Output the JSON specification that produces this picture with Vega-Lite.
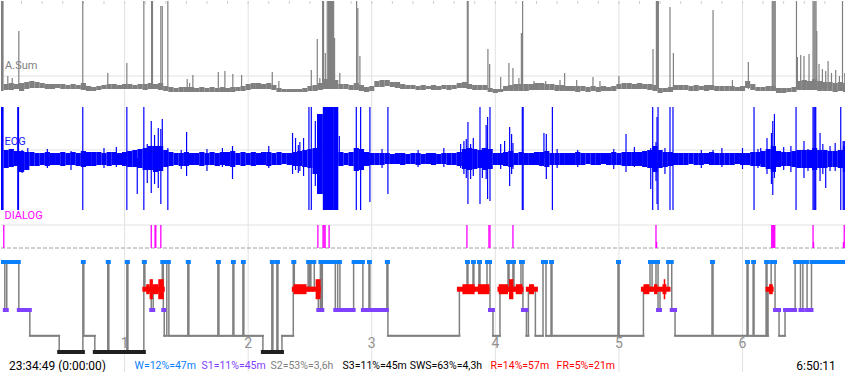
{
"$schema": "https://vega.github.io/schema/vega-lite/v6.json",
"padding": 0,
"bounds": "flush",
"spacing": 0,
"background": "white",
"resolve": {"scale": {"color": "independent"}},
"config": {"view": {"stroke": null}, "font": "Roboto"},
"datasets": {
"hrs": [{"e":120,"lab":"1"},{"e":240,"lab":"2"},{"e":360,"lab":"3"},{"e":480,"lab":"4"},{"e":600,"lab":"5"},{"e":720,"lab":"6"}],
"full": [{"e":0,"b":820.5}],
"ten": [{"e":20},{"e":40},{"e":60},{"e":80},{"e":100},{"e":120},{"e":140},{"e":160},{"e":180},{"e":200},{"e":220},{"e":240},{"e":260},{"e":280},{"e":300},{"e":320},{"e":340},{"e":360},{"e":380},{"e":400},{"e":420},{"e":440},{"e":460},{"e":480},{"e":500},{"e":520},{"e":540},{"e":560},{"e":580},{"e":600},{"e":620},{"e":640},{"e":660},{"e":680},{"e":700},{"e":720},{"e":740},{"e":760},{"e":780},{"e":800},{"e":820}],
"sig": [
{"e":0,"al":8,"ah":98,"ol":-52,"oh":51},{"e":5,"al":9,"ah":15,"ol":-10,"oh":8},{"e":10,"al":9,"ah":16,"ol":-9,"oh":9},{"e":15,"al":10,"ah":15,"ol":-8,"oh":7},{"e":20,"al":8,"ah":16,"ol":-14,"oh":7},{"e":25,"al":10,"ah":17,"ol":-12,"oh":6},{"e":30,"al":11,"ah":18,"ol":-8,"oh":6},{"e":35,"al":11,"ah":17,"ol":-8,"oh":5},{"e":40,"al":11,"ah":16,"ol":-7,"oh":5},{"e":45,"al":10,"ah":15,"ol":-8,"oh":6},
{"e":50,"al":10,"ah":15,"ol":-7,"oh":5},{"e":55,"al":11,"ah":15,"ol":-7,"oh":5},{"e":60,"al":10,"ah":15,"ol":-8,"oh":6},{"e":65,"al":10,"ah":14,"ol":-7,"oh":5},{"e":70,"al":10,"ah":15,"ol":-7,"oh":6},{"e":75,"al":10,"ah":14,"ol":-8,"oh":5},{"e":80,"al":9,"ah":16,"ol":-9,"oh":7},{"e":85,"al":8,"ah":13,"ol":-8,"oh":6},{"e":90,"al":8,"ah":12,"ol":-8,"oh":6},{"e":95,"al":9,"ah":13,"ol":-7,"oh":6},
{"e":100,"al":10,"ah":14,"ol":-7,"oh":5},{"e":105,"al":10,"ah":15,"ol":-8,"oh":6},{"e":110,"al":10,"ah":15,"ol":-7,"oh":6},{"e":115,"al":10,"ah":14,"ol":-7,"oh":5},{"e":120,"al":10,"ah":15,"ol":-8,"oh":6},{"e":125,"al":10,"ah":15,"ol":-9,"oh":7},{"e":130,"al":10,"ah":14,"ol":-9,"oh":8},{"e":135,"al":10,"ah":15,"ol":-10,"oh":9},{"e":140,"al":9,"ah":15,"ol":-12,"oh":10},{"e":145,"al":10,"ah":16,"ol":-12,"oh":12},
{"e":150,"al":10,"ah":15,"ol":-14,"oh":12},{"e":155,"al":9,"ah":16,"ol":-13,"oh":12},{"e":160,"al":8,"ah":13,"ol":-9,"oh":8},{"e":165,"al":7,"ah":12,"ol":-8,"oh":6},{"e":170,"al":7,"ah":11,"ol":-7,"oh":5},{"e":175,"al":7,"ah":12,"ol":-8,"oh":5},{"e":180,"al":7,"ah":12,"ol":-8,"oh":6},{"e":185,"al":7,"ah":12,"ol":-7,"oh":5},{"e":190,"al":7,"ah":11,"ol":-7,"oh":5},{"e":195,"al":7,"ah":12,"ol":-8,"oh":6},
{"e":200,"al":7,"ah":11,"ol":-7,"oh":5},{"e":205,"al":7,"ah":12,"ol":-7,"oh":6},{"e":210,"al":7,"ah":11,"ol":-8,"oh":5},{"e":215,"al":7,"ah":12,"ol":-7,"oh":6},{"e":220,"al":7,"ah":11,"ol":-8,"oh":6},{"e":225,"al":7,"ah":12,"ol":-9,"oh":7},{"e":230,"al":8,"ah":12,"ol":-7,"oh":5},{"e":235,"al":8,"ah":13,"ol":-8,"oh":6},{"e":240,"al":9,"ah":15,"ol":-7,"oh":5},{"e":245,"al":10,"ah":16,"ol":-8,"oh":6},
{"e":250,"al":10,"ah":16,"ol":-7,"oh":5},{"e":255,"al":10,"ah":15,"ol":-7,"oh":6},{"e":260,"al":10,"ah":16,"ol":-8,"oh":6},{"e":265,"al":9,"ah":14,"ol":-7,"oh":5},{"e":270,"al":7,"ah":11,"ol":-7,"oh":6},{"e":275,"al":7,"ah":10,"ol":-6,"oh":5},{"e":280,"al":7,"ah":10,"ol":-7,"oh":5},{"e":285,"al":7,"ah":10,"ol":-8,"oh":6},{"e":290,"al":7,"ah":10,"ol":-8,"oh":7},{"e":295,"al":7,"ah":11,"ol":-9,"oh":8},
{"e":300,"al":8,"ah":13,"ol":-10,"oh":9},{"e":305,"al":8,"ah":14,"ol":-16,"oh":10},{"e":310,"al":9,"ah":16,"ol":-36,"oh":44},{"e":315,"al":10,"ah":20,"ol":-52,"oh":51},{"e":320,"al":10,"ah":21,"ol":-52,"oh":51},{"e":325,"al":10,"ah":19,"ol":-52,"oh":51},{"e":330,"al":10,"ah":15,"ol":-8,"oh":6},{"e":335,"al":10,"ah":15,"ol":-7,"oh":5},{"e":340,"al":9,"ah":14,"ol":-8,"oh":6},{"e":345,"al":9,"ah":16,"ol":-13,"oh":10},
{"e":350,"al":8,"ah":14,"ol":-12,"oh":9},{"e":355,"al":7,"ah":12,"ol":-8,"oh":6},{"e":360,"al":8,"ah":13,"ol":-7,"oh":5},{"e":365,"al":12,"ah":18,"ol":-7,"oh":5},{"e":370,"al":12,"ah":19,"ol":-7,"oh":5},{"e":375,"al":13,"ah":19,"ol":-6,"oh":5},{"e":380,"al":12,"ah":17,"ol":-6,"oh":4},{"e":385,"al":11,"ah":17,"ol":-6,"oh":5},{"e":390,"al":10,"ah":15,"ol":-7,"oh":5},{"e":395,"al":10,"ah":14,"ol":-6,"oh":4},
{"e":400,"al":10,"ah":14,"ol":-6,"oh":5},{"e":405,"al":9,"ah":13,"ol":-7,"oh":5},{"e":410,"al":9,"ah":14,"ol":-6,"oh":4},{"e":415,"al":10,"ah":13,"ol":-6,"oh":5},{"e":420,"al":9,"ah":14,"ol":-7,"oh":5},{"e":425,"al":9,"ah":13,"ol":-6,"oh":4},{"e":430,"al":10,"ah":14,"ol":-6,"oh":5},{"e":435,"al":9,"ah":14,"ol":-7,"oh":5},{"e":440,"al":10,"ah":14,"ol":-7,"oh":5},{"e":445,"al":11,"ah":16,"ol":-8,"oh":6},
{"e":450,"al":11,"ah":17,"ol":-11,"oh":9},{"e":455,"al":10,"ah":15,"ol":-12,"oh":10},{"e":460,"al":9,"ah":14,"ol":-11,"oh":9},{"e":465,"al":9,"ah":14,"ol":-10,"oh":8},{"e":470,"al":9,"ah":14,"ol":-12,"oh":10},{"e":475,"al":7,"ah":11,"ol":-11,"oh":9},{"e":480,"al":6,"ah":10,"ol":-7,"oh":5},{"e":485,"al":7,"ah":10,"ol":-7,"oh":5},{"e":490,"al":8,"ah":13,"ol":-8,"oh":6},{"e":495,"al":8,"ah":14,"ol":-9,"oh":7},
{"e":500,"al":8,"ah":15,"ol":-7,"oh":5},{"e":505,"al":8,"ah":15,"ol":-7,"oh":6},{"e":510,"al":8,"ah":15,"ol":-7,"oh":5},{"e":515,"al":9,"ah":15,"ol":-7,"oh":5},{"e":520,"al":9,"ah":16,"ol":-7,"oh":6},{"e":525,"al":9,"ah":16,"ol":-8,"oh":6},{"e":530,"al":9,"ah":15,"ol":-9,"oh":7},{"e":535,"al":9,"ah":15,"ol":-7,"oh":5},{"e":540,"al":8,"ah":14,"ol":-7,"oh":5},{"e":545,"al":8,"ah":14,"ol":-7,"oh":5},
{"e":550,"al":8,"ah":13,"ol":-7,"oh":5},{"e":555,"al":8,"ah":13,"ol":-7,"oh":5},{"e":560,"al":7,"ah":13,"ol":-7,"oh":6},{"e":565,"al":8,"ah":13,"ol":-7,"oh":5},{"e":570,"al":7,"ah":12,"ol":-6,"oh":5},{"e":575,"al":8,"ah":13,"ol":-7,"oh":5},{"e":580,"al":7,"ah":12,"ol":-7,"oh":5},{"e":585,"al":8,"ah":13,"ol":-6,"oh":5},{"e":590,"al":8,"ah":12,"ol":-7,"oh":5},{"e":595,"al":8,"ah":13,"ol":-7,"oh":6},
{"e":600,"al":10,"ah":15,"ol":-7,"oh":5},{"e":605,"al":10,"ah":16,"ol":-8,"oh":6},{"e":610,"al":10,"ah":16,"ol":-8,"oh":6},{"e":615,"al":10,"ah":15,"ol":-8,"oh":6},{"e":620,"al":10,"ah":16,"ol":-8,"oh":6},{"e":625,"al":10,"ah":15,"ol":-9,"oh":7},{"e":630,"al":9,"ah":15,"ol":-10,"oh":8},{"e":635,"al":8,"ah":14,"ol":-14,"oh":12},{"e":640,"al":6,"ah":11,"ol":-10,"oh":8},{"e":645,"al":7,"ah":11,"ol":-9,"oh":6},
{"e":650,"al":7,"ah":12,"ol":-8,"oh":6},{"e":655,"al":9,"ah":14,"ol":-7,"oh":5},{"e":660,"al":9,"ah":14,"ol":-7,"oh":5},{"e":665,"al":9,"ah":14,"ol":-7,"oh":5},{"e":670,"al":8,"ah":13,"ol":-6,"oh":5},{"e":675,"al":8,"ah":14,"ol":-7,"oh":5},{"e":680,"al":9,"ah":13,"ol":-7,"oh":5},{"e":685,"al":8,"ah":14,"ol":-6,"oh":5},{"e":690,"al":9,"ah":14,"ol":-7,"oh":6},{"e":695,"al":8,"ah":13,"ol":-7,"oh":5},
{"e":700,"al":8,"ah":13,"ol":-7,"oh":5},{"e":705,"al":8,"ah":13,"ol":-7,"oh":5},{"e":710,"al":8,"ah":13,"ol":-7,"oh":5},{"e":715,"al":8,"ah":12,"ol":-6,"oh":5},{"e":720,"al":8,"ah":13,"ol":-7,"oh":5},{"e":725,"al":11,"ah":18,"ol":-7,"oh":5},{"e":730,"al":9,"ah":15,"ol":-8,"oh":6},{"e":735,"al":8,"ah":12,"ol":-8,"oh":6},{"e":740,"al":8,"ah":12,"ol":-9,"oh":7},{"e":745,"al":8,"ah":13,"ol":-11,"oh":9},
{"e":750,"al":8,"ah":13,"ol":-14,"oh":12},{"e":755,"al":6,"ah":11,"ol":-9,"oh":7},{"e":760,"al":6,"ah":11,"ol":-8,"oh":6},{"e":765,"al":7,"ah":11,"ol":-8,"oh":6},{"e":770,"al":7,"ah":12,"ol":-9,"oh":7},{"e":775,"al":9,"ah":18,"ol":-10,"oh":8},{"e":780,"al":9,"ah":19,"ol":-10,"oh":8},{"e":785,"al":9,"ah":18,"ol":-10,"oh":8},{"e":790,"al":9,"ah":20,"ol":-12,"oh":10},{"e":795,"al":8,"ah":18,"ol":-10,"oh":8},
{"e":800,"al":8,"ah":17,"ol":-10,"oh":8},{"e":805,"al":8,"ah":17,"ol":-9,"oh":7},{"e":810,"al":7,"ah":16,"ol":-9,"oh":7},{"e":815,"al":8,"ah":17,"ol":-10,"oh":8},{"e":820,"al":7,"ah":16,"ol":-14,"oh":12}
],
"aspk": [
{"e":6.6,"h":23},{"e":10.9,"h":21},{"e":17.3,"h":68},{"e":79.4,"h":98},{"e":103.7,"h":26},{"e":122.2,"h":36},{"e":138.7,"h":98},{"e":146.2,"h":98},{"e":147.1,"h":98},{"e":155.2,"h":93},{"e":156.6,"h":93},{"e":162,"h":98},{"e":180.8,"h":20},{"e":183.1,"h":16},{"e":186.3,"h":24},{"e":211,"h":27},{"e":217.4,"h":28},{"e":225.1,"h":25},{"e":233.6,"h":24},{"e":263.4,"h":27},{"e":269.8,"h":18},
{"e":301.3,"h":29},{"e":307.1,"h":60},{"e":309.6,"h":21},{"e":312.3,"h":98},{"e":313.2,"h":98},{"e":314.9,"h":46},{"e":316.8,"h":98},{"e":318.1,"h":98},{"e":319,"h":98},{"e":320,"h":98},{"e":321,"h":98},{"e":322,"h":98},{"e":323,"h":98},{"e":323.9,"h":61},{"e":329,"h":26},{"e":345.3,"h":98},{"e":346.5,"h":91},{"e":348.5,"h":43},
{"e":452.8,"h":98},{"e":453.6,"h":98},{"e":472.8,"h":50},{"e":474.5,"h":35},{"e":485.2,"h":22},{"e":493.2,"h":36},{"e":497.1,"h":31},{"e":502.9,"h":21},{"e":505.3,"h":66},{"e":506.5,"h":98},{"e":517.5,"h":18},{"e":528.9,"h":18},{"e":542.8,"h":19},{"e":547.3,"h":26},{"e":559,"h":19},{"e":574.8,"h":22},{"e":581.6,"h":18},{"e":600,"h":23},
{"e":633.1,"h":50},{"e":636.4,"h":98},{"e":637.4,"h":98},{"e":638.3,"h":98},{"e":649.6,"h":92},{"e":652.9,"h":46},{"e":691.4,"h":89},{"e":710.2,"h":19},{"e":725.7,"h":37},{"e":748.9,"h":98},{"e":749.8,"h":98},{"e":750.8,"h":98},{"e":751.8,"h":98},{"e":772.4,"h":98},{"e":773.3,"h":42},{"e":776.5,"h":44},{"e":779.7,"h":43},{"e":784.6,"h":45},
{"e":788.5,"h":98},{"e":789.5,"h":98},{"e":790.4,"h":98},{"e":791.4,"h":98},{"e":792.1,"h":68},{"e":794.3,"h":35},{"e":797.6,"h":30},{"e":800.8,"h":28},{"e":803.1,"h":38},{"e":806.4,"h":26},{"e":810.5,"h":29},{"e":814.1,"h":23},{"e":817.1,"h":98},{"e":819.3,"h":26}
],
"espk": [
{"e":16.3,"l":-52,"h":51},{"e":17,"l":-52,"h":51},{"e":20.5,"l":-15,"h":8},{"e":26,"l":-12,"h":10},{"e":45,"l":-10,"h":9},{"e":68,"l":-12,"h":7},{"e":79.4,"l":-52,"h":51},{"e":100,"l":-10,"h":10},{"e":112,"l":-9,"h":11},{"e":122.2,"l":-52,"h":51},{"e":132.3,"l":-36,"h":0},{"e":138.7,"l":-52,"h":51},{"e":142,"l":-25,"h":14},{"e":145.9,"l":-35,"h":37},{"e":149.1,"l":-26,"h":23},{"e":152.7,"l":-30,"h":30},{"e":155.2,"l":-46,"h":29},{"e":156.6,"l":-10,"h":39},{"e":162,"l":-52,"h":10},
{"e":175,"l":-11,"h":8},{"e":180.2,"l":-18,"h":26},{"e":200,"l":-13,"h":9},{"e":215,"l":-9,"h":10},{"e":224.8,"l":-21,"h":12},{"e":260,"l":-10,"h":12},{"e":283.1,"l":-16,"h":25},{"e":286,"l":-12,"h":20},{"e":288.7,"l":-15,"h":13},{"e":290.2,"l":-13,"h":16},{"e":293.8,"l":-18,"h":20},{"e":299,"l":-52,"h":51},{"e":301.3,"l":-52,"h":51},{"e":305.2,"l":-28,"h":37},{"e":307.4,"l":-36,"h":44},
{"e":328.5,"l":-5,"h":22},{"e":345,"l":-52,"h":51},{"e":349.2,"l":-52,"h":51},{"e":358.2,"l":-44,"h":51},{"e":370,"l":-10,"h":9},{"e":375.7,"l":-36,"h":51},{"e":405,"l":-9,"h":8},{"e":430,"l":-9,"h":10},
{"e":446.3,"l":-10,"h":14},{"e":449.5,"l":-16,"h":17},{"e":451.8,"l":-20,"h":19},{"e":453.4,"l":-46,"h":36},{"e":456,"l":-21,"h":14},{"e":458.6,"l":-18,"h":20},{"e":465.1,"l":-46,"h":51},{"e":467.4,"l":-20,"h":10},{"e":471.1,"l":-21,"h":33},{"e":472.5,"l":-41,"h":41},{"e":474.8,"l":-43,"h":51},{"e":485.2,"l":-11,"h":14},{"e":489,"l":-6,"h":17},{"e":493.9,"l":-28,"h":31},{"e":495.8,"l":-16,"h":24},{"e":497.1,"l":-11,"h":15},{"e":506.2,"l":-52,"h":51},{"e":507,"l":-52,"h":51},
{"e":527.2,"l":0,"h":25},{"e":529.5,"l":-21,"h":24},{"e":535.4,"l":-52,"h":51},{"e":540,"l":-10,"h":9},{"e":560,"l":-9,"h":8},{"e":595,"l":-11,"h":9},{"e":606.9,"l":-14,"h":24},{"e":615,"l":-9,"h":11},
{"e":630.9,"l":-31,"h":10},{"e":632.8,"l":-52,"h":51},{"e":636,"l":-23,"h":16},{"e":637,"l":-46,"h":41},{"e":638,"l":-52,"h":51},{"e":644.7,"l":-16,"h":10},{"e":649.6,"l":-52,"h":51},{"e":652.5,"l":-52,"h":51},{"e":680,"l":-10,"h":8},{"e":691.4,"l":-6,"h":8},{"e":700,"l":-9,"h":10},{"e":720,"l":-11,"h":10},{"e":731.2,"l":-52,"h":51},{"e":735,"l":-10,"h":9},{"e":737.7,"l":-6,"h":10},
{"e":743.8,"l":-16,"h":20},{"e":748.1,"l":-26,"h":25},{"e":749.4,"l":-37,"h":37},{"e":751,"l":-20,"h":44},{"e":760,"l":-12,"h":11},{"e":767,"l":-14,"h":12},{"e":772,"l":-52,"h":51},{"e":779.7,"l":-20,"h":17},{"e":783.6,"l":-13,"h":9},{"e":788.5,"l":-52,"h":51},{"e":789.5,"l":-52,"h":51},{"e":790.4,"l":-52,"h":51},{"e":791.1,"l":-52,"h":51},{"e":795.3,"l":-23,"h":25},{"e":798,"l":-16,"h":14},{"e":800.8,"l":-30,"h":4},{"e":805,"l":-13,"h":12},{"e":810,"l":-13,"h":15},{"e":815.4,"l":-52,"h":51},{"e":817.8,"l":-52,"h":17},{"e":818.8,"l":-52,"h":17},{"e":819.8,"l":-52,"h":17}
],
"dlg": [
{"e":2.7,"l":5,"h":28},{"e":145.9,"l":5,"h":28},{"e":149.6,"l":5,"h":28},{"e":150.3,"l":5,"h":28},{"e":155.2,"l":5,"h":28},{"e":307.7,"l":5,"h":28},{"e":312.7,"l":5,"h":28},{"e":313.7,"l":5,"h":28},{"e":314.7,"l":5,"h":28},{"e":318.6,"l":5,"h":28},{"e":452.4,"l":5,"h":28},{"e":473.8,"l":5,"h":28},{"e":474.8,"l":5,"h":28},{"e":497.1,"l":5,"h":28},{"e":636,"l":5,"h":28},{"e":636.6,"l":5,"h":11},{"e":748.4,"l":5,"h":28},{"e":749.4,"l":5,"h":28},{"e":750.3,"l":5,"h":28},{"e":751.3,"l":5,"h":28},{"e":788.5,"l":5,"h":28},{"e":789,"l":5,"h":11},{"e":818.8,"l":5,"h":28},{"e":818,"l":5,"h":11}
],
"hyp": [
{"e":0,"b":3.7,"s":"W","c":0},{"e":3.7,"b":5.6,"s":"S1","c":2},{"e":5.6,"b":17.3,"s":"W","c":0},{"e":17.3,"b":28,"s":"S1","c":2},{"e":28,"b":56.5,"s":"S2","c":3},{"e":56.5,"b":79.5,"s":"S3","c":4},{"e":79.5,"b":80.4,"s":"W","c":0},{"e":80.4,"b":91.1,"s":"S2","c":3},{"e":91.1,"b":103.7,"s":"S3","c":4},{"e":103.7,"b":104.7,"s":"W","c":0},
{"e":104.7,"b":122.2,"s":"S3","c":4},{"e":122.2,"b":123.2,"s":"W","c":0},{"e":123.2,"b":138.7,"s":"S3","c":4},{"e":138.7,"b":139.7,"s":"W","c":0},{"e":139.7,"b":145.9,"s":"R","c":1},{"e":145.9,"b":147.8,"s":"S1","c":2},{"e":147.8,"b":156.6,"s":"R","c":1},{"e":156.6,"b":157.6,"s":"W","c":0},{"e":157.6,"b":158.5,"s":"S1","c":2},{"e":158.5,"b":161,"s":"S2","c":3},
{"e":161,"b":163,"s":"W","c":0},{"e":163,"b":181.4,"s":"S2","c":3},{"e":181.4,"b":182.4,"s":"W","c":0},{"e":182.4,"b":210.6,"s":"S2","c":3},{"e":210.6,"b":211.6,"s":"W","c":0},{"e":211.6,"b":225.2,"s":"S2","c":3},{"e":225.2,"b":226.1,"s":"W","c":0},{"e":226.1,"b":234.9,"s":"S2","c":3},{"e":234.9,"b":235.8,"s":"W","c":0},{"e":235.8,"b":254.3,"s":"S2","c":3},
{"e":254.3,"b":263,"s":"S3","c":4},{"e":263,"b":264,"s":"W","c":0},{"e":264,"b":267.9,"s":"S3","c":4},{"e":267.9,"b":268.9,"s":"W","c":0},{"e":268.9,"b":272.8,"s":"S3","c":4},{"e":272.8,"b":283.8,"s":"S2","c":3},{"e":283.8,"b":284.8,"s":"W","c":0},{"e":284.8,"b":298.2,"s":"R","c":1},{"e":298.2,"b":299.7,"s":"W","c":0},{"e":299.7,"b":300.9,"s":"R","c":1},
{"e":300.9,"b":304.2,"s":"W","c":0},{"e":304.2,"b":308.1,"s":"R","c":1},{"e":308.1,"b":310.1,"s":"S1","c":2},{"e":310.1,"b":311,"s":"W","c":0},{"e":311,"b":312,"s":"S1","c":2},{"e":312,"b":324.6,"s":"W","c":0},{"e":324.6,"b":326.9,"s":"S1","c":2},{"e":326.9,"b":329.1,"s":"W","c":0},{"e":329.1,"b":342.4,"s":"S1","c":2},{"e":342.4,"b":351.4,"s":"W","c":0},
{"e":351.4,"b":357.3,"s":"S1","c":2},{"e":357.3,"b":358.2,"s":"W","c":0},{"e":358.2,"b":374.7,"s":"S1","c":2},{"e":374.7,"b":375.7,"s":"W","c":0},{"e":375.7,"b":445.1,"s":"S2","c":3},{"e":445.1,"b":452.5,"s":"R","c":1},{"e":452.5,"b":453.4,"s":"W","c":0},{"e":453.4,"b":458.3,"s":"R","c":1},{"e":458.3,"b":459.2,"s":"W","c":0},{"e":459.2,"b":464.1,"s":"R","c":1},
{"e":464.1,"b":465.1,"s":"W","c":0},{"e":465.1,"b":471.9,"s":"R","c":1},{"e":471.9,"b":474.8,"s":"W","c":0},{"e":474.8,"b":477.7,"s":"S1","c":2},{"e":477.7,"b":484.5,"s":"S2","c":3},{"e":484.5,"b":492.3,"s":"R","c":1},{"e":492.3,"b":493.3,"s":"W","c":0},{"e":493.3,"b":497.1,"s":"R","c":1},{"e":497.1,"b":498.1,"s":"W","c":0},{"e":498.1,"b":504.9,"s":"R","c":1},
{"e":504.9,"b":506.8,"s":"W","c":0},{"e":506.8,"b":510.2,"s":"S1","c":2},{"e":510.2,"b":512.1,"s":"S2","c":3},{"e":512.1,"b":518.9,"s":"R","c":1},{"e":518.9,"b":526.3,"s":"S2","c":3},{"e":526.3,"b":529.2,"s":"W","c":0},{"e":529.2,"b":534.1,"s":"S2","c":3},{"e":534.1,"b":535,"s":"W","c":0},{"e":535,"b":599.1,"s":"S2","c":3},{"e":599.1,"b":600.1,"s":"W","c":0},
{"e":600.1,"b":623.8,"s":"S2","c":3},{"e":623.8,"b":630.2,"s":"R","c":1},{"e":630.2,"b":632.2,"s":"W","c":0},{"e":632.2,"b":636,"s":"R","c":1},{"e":636,"b":638,"s":"W","c":0},{"e":638,"b":639.9,"s":"S1","c":2},{"e":639.9,"b":647.7,"s":"R","c":1},{"e":647.7,"b":651.3,"s":"W","c":0},{"e":651.3,"b":654.5,"s":"S1","c":2},{"e":654.5,"b":690.4,"s":"S2","c":3},
{"e":690.4,"b":691.4,"s":"W","c":0},{"e":691.4,"b":724.4,"s":"S2","c":3},{"e":724.4,"b":725.4,"s":"W","c":0},{"e":725.4,"b":730.3,"s":"S2","c":3},{"e":730.3,"b":731.2,"s":"W","c":0},{"e":731.2,"b":742.9,"s":"S2","c":3},{"e":742.9,"b":743.8,"s":"W","c":0},{"e":743.8,"b":744.8,"s":"S2","c":3},{"e":744.8,"b":747.8,"s":"R","c":1},{"e":747.8,"b":751.6,"s":"W","c":0},
{"e":751.6,"b":755.5,"s":"S1","c":2},{"e":755.5,"b":761.3,"s":"S2","c":3},{"e":761.3,"b":771.1,"s":"S1","c":2},{"e":771.1,"b":776.3,"s":"W","c":0},{"e":776.3,"b":778.6,"s":"S1","c":2},{"e":778.6,"b":782.7,"s":"W","c":0},{"e":782.7,"b":787,"s":"S1","c":2},{"e":787,"b":820.5,"s":"W","c":0}
],
"rem2": [
{"e":141,"b":144.3},{"e":147.5,"b":152.7},{"e":284.1,"b":296.7},{"e":448,"b":459.9},{"e":463.1,"b":474.2},{"e":483.3,"b":492.3},{"e":499.8,"b":506.3},{"e":512.7,"b":517.6},{"e":623.8,"b":629.6},{"e":634.1,"b":637.4},{"e":642.3,"b":646.1},{"e":745.8,"b":749.4}
],
"rem3": [
{"e":144.3,"b":147.5},{"e":152.7,"b":158.1},{"e":305.5,"b":310.3},{"e":493.3,"b":497.5},{"e":643.5,"b":645}
],
"labs": [{"e":4,"t":"A.Sum"}],
"labe": [{"e":3.4,"t":"EOG"}],
"labd": [{"e":3.4,"t":"DIALOG"}],
"txt": [
{"e":129.7,"t":"W=12%=47m","g":"W"},{"e":194.7,"t":"S1=11%=45m","g":"S1"},{"e":261.7,"t":"S2=53%=3,6h","g":"S2"},{"e":331.7,"t":"S3=11%=45m","g":"K"},{"e":396.8,"t":"SWS=63%=4,3h","g":"K"},{"e":475.4,"t":"R=14%=57m","g":"R"},{"e":539.5,"t":"FR=5%=21m","g":"R"}
],
"tl": [{"e":7.7,"t":"23:34:49 (0:00:00)"}],
"tr": [{"e":810.6,"t":"6:50:11"}]
},
"vconcat": [
{
"width": 845, "height": 98,
"encoding": {"x": {"field": "e", "type": "quantitative", "scale": {"domain": [0, 820.5], "nice": false, "zero": false}, "axis": null}},
"layer": [
{"data": {"name": "hrs"}, "mark": {"type": "rule", "color": "#e2e2e2"}, "encoding": {}},
{"data": {"name": "full"}, "mark": {"type": "rule", "color": "#e2e2e2"}, "encoding": {"x2": {"field": "b"}, "y": {"datum": 23, "type": "quantitative", "scale": {"domain": [0, 98], "nice": false, "zero": false}, "axis": null}}},
{"data": {"name": "ten"}, "mark": {"type": "rule", "color": "#cccccc"}, "encoding": {"y": {"datum": 98, "type": "quantitative", "scale": {"domain": [0, 98], "nice": false, "zero": false}, "axis": null}, "y2": {"datum": 95}}},
{"data": {"name": "sig"}, "mark": {"type": "rule", "color": "#808080", "strokeWidth": 5.2, "clip": true}, "encoding": {"y": {"field": "al", "type": "quantitative", "scale": {"domain": [0, 98], "nice": false, "zero": false}, "axis": null}, "y2": {"field": "ah"}}},
{"data": {"name": "aspk"}, "mark": {"type": "rule", "color": "#808080", "strokeWidth": 1.2}, "encoding": {"y": {"field": "h", "type": "quantitative", "scale": {"domain": [0, 98], "nice": false, "zero": false}, "axis": null}, "y2": {"datum": 10}}},
{"data": {"name": "labs"}, "mark": {"type": "text", "align": "left", "baseline": "middle", "fontSize": 11, "color": "#808080"}, "encoding": {"y": {"datum": 33, "type": "quantitative", "scale": {"domain": [0, 98], "nice": false, "zero": false}, "axis": null}, "text": {"field": "t"}}}
]
},
{
"width": 845, "height": 114,
"encoding": {"x": {"field": "e", "type": "quantitative", "scale": {"domain": [0, 820.5], "nice": false, "zero": false}, "axis": null}},
"layer": [
{"data": {"name": "hrs"}, "mark": {"type": "rule", "color": "#e2e2e2"}, "encoding": {}},
{"data": {"name": "full"}, "mark": {"type": "rule", "color": "#e2e2e2"}, "encoding": {"x2": {"field": "b"}, "y": {"datum": 8, "type": "quantitative", "scale": {"domain": [-55, 59], "nice": false, "zero": false}, "axis": null}}},
{"data": {"name": "sig"}, "mark": {"type": "rule", "color": "#0000ff", "strokeWidth": 5.2, "clip": true}, "encoding": {"y": {"field": "ol", "type": "quantitative", "scale": {"domain": [-55, 59], "nice": false, "zero": false}, "axis": null}, "y2": {"field": "oh"}}},
{"data": {"name": "espk"}, "mark": {"type": "rule", "color": "#0000ff", "strokeWidth": 1.2}, "encoding": {"y": {"field": "l", "type": "quantitative", "scale": {"domain": [-55, 59], "nice": false, "zero": false}, "axis": null}, "y2": {"field": "h"}}},
{"data": {"name": "labe"}, "mark": {"type": "text", "align": "left", "baseline": "middle", "fontSize": 11, "color": "#1a1aff"}, "encoding": {"y": {"datum": 16, "type": "quantitative", "scale": {"domain": [-55, 59], "nice": false, "zero": false}, "axis": null}, "text": {"field": "t"}}}
]
},
{
"width": 845, "height": 40,
"encoding": {"x": {"field": "e", "type": "quantitative", "scale": {"domain": [0, 820.5], "nice": false, "zero": false}, "axis": null}},
"layer": [
{"data": {"name": "hrs"}, "mark": {"type": "rule", "color": "#e2e2e2"}, "encoding": {}},
{"data": {"name": "full"}, "mark": {"type": "rule", "color": "#e2e2e2"}, "encoding": {"x2": {"field": "b"}, "y": {"datum": 28, "type": "quantitative", "scale": {"domain": [0, 40], "nice": false, "zero": false}, "axis": null}}},
{"data": {"name": "full"}, "mark": {"type": "rule", "color": "#a0a0a0", "strokeDash": [4, 2]}, "encoding": {"x2": {"field": "b"}, "y": {"datum": 5, "type": "quantitative", "scale": {"domain": [0, 40], "nice": false, "zero": false}, "axis": null}}},
{"data": {"name": "dlg"}, "mark": {"type": "rule", "color": "#ff00ff", "strokeWidth": 1.3}, "encoding": {"y": {"field": "l", "type": "quantitative", "scale": {"domain": [0, 40], "nice": false, "zero": false}, "axis": null}, "y2": {"field": "h"}}},
{"data": {"name": "labd"}, "mark": {"type": "text", "align": "left", "baseline": "middle", "fontSize": 11, "color": "#ff00ff"}, "encoding": {"y": {"datum": 37, "type": "quantitative", "scale": {"domain": [0, 40], "nice": false, "zero": false}, "axis": null}, "text": {"field": "t"}}}
]
},
{
"width": 845, "height": 105,
"encoding": {"x": {"field": "e", "type": "quantitative", "scale": {"domain": [0, 820.5], "nice": false, "zero": false}, "axis": null}},
"layer": [
{"data": {"name": "hrs"}, "mark": {"type": "rule", "color": "#e2e2e2"}, "encoding": {}},
{"data": {"name": "hrs"}, "mark": {"type": "text", "fontSize": 14, "color": "#909090", "baseline": "middle"}, "encoding": {"y": {"datum": 3.5, "type": "quantitative", "scale": {"domain": [0, 1, 2, 3, 4], "range": [9, 36.2, 57, 82.8, 99], "nice": false, "zero": false}, "axis": null}, "text": {"field": "lab"}}},
{"data": {"name": "hyp"}, "mark": {"type": "line", "interpolate": "step-after", "color": "#808080", "strokeWidth": 1.5, "clip": true}, "encoding": {"y": {"field": "c", "type": "quantitative", "scale": {"domain": [0, 1, 2, 3, 4], "range": [9, 36.2, 57, 82.8, 99], "nice": false, "zero": false}, "axis": null}}},
{"data": {"name": "hyp"}, "transform": [{"filter": "datum.s == 'S2'"}], "mark": {"type": "rule", "color": "#808080", "strokeWidth": 2, "strokeCap": "square", "clip": true}, "encoding": {"x2": {"field": "b"}, "y": {"field": "c", "type": "quantitative", "scale": {"domain": [0, 1, 2, 3, 4], "range": [9, 36.2, 57, 82.8, 99], "nice": false, "zero": false}, "axis": null}}},
{"data": {"name": "hyp"}, "transform": [{"filter": "datum.s == 'R'"}], "mark": {"type": "rule", "color": "#ff0000", "strokeWidth": 5, "strokeCap": "square", "clip": true}, "encoding": {"x2": {"field": "b"}, "y": {"field": "c", "type": "quantitative", "scale": {"domain": [0, 1, 2, 3, 4], "range": [9, 36.2, 57, 82.8, 99], "nice": false, "zero": false}, "axis": null}}},
{"data": {"name": "hyp"}, "transform": [{"filter": "datum.s == 'W' || datum.s == 'S1' || datum.s == 'S3'"}], "mark": {"type": "rule", "strokeWidth": 4, "strokeCap": "square", "clip": true}, "encoding": {"x2": {"field": "b"}, "y": {"field": "c", "type": "quantitative", "scale": {"domain": [0, 1, 2, 3, 4], "range": [9, 36.2, 57, 82.8, 99], "nice": false, "zero": false}, "axis": null}, "color": {"field": "s", "type": "nominal", "scale": {"domain": ["W", "S1", "S3"], "range": ["#0a80ff", "#8040ff", "#202020"]}, "legend": null}}},
{"data": {"name": "rem2"}, "mark": {"type": "rule", "color": "#ff0000", "strokeWidth": 10}, "encoding": {"x2": {"field": "b"}, "y": {"datum": 1, "type": "quantitative", "scale": {"domain": [0, 1, 2, 3, 4], "range": [9, 36.2, 57, 82.8, 99], "nice": false, "zero": false}, "axis": null}}},
{"data": {"name": "rem3"}, "mark": {"type": "rule", "color": "#ff0000", "strokeWidth": 20}, "encoding": {"x2": {"field": "b"}, "y": {"datum": 1, "type": "quantitative", "scale": {"domain": [0, 1, 2, 3, 4], "range": [9, 36.2, 57, 82.8, 99], "nice": false, "zero": false}, "axis": null}}}
]
},
{
"width": 845, "height": 15,
"encoding": {"x": {"field": "e", "type": "quantitative", "scale": {"domain": [0, 820.5], "nice": false, "zero": false}, "axis": null}},
"layer": [
{"data": {"name": "hrs"}, "mark": {"type": "rule", "color": "#e2e2e2"}, "encoding": {}},
{"data": {"name": "txt"}, "mark": {"type": "text", "align": "left", "baseline": "middle", "fontSize": 10.5}, "encoding": {"text": {"field": "t"}, "color": {"field": "g", "type": "nominal", "scale": {"domain": ["K", "W", "S1", "S2", "R"], "range": ["#000000", "#0a80ff", "#8040ff", "#808080", "#ff0000"]}, "legend": null}}},
{"data": {"name": "tl"}, "mark": {"type": "text", "align": "left", "baseline": "middle", "fontSize": 12, "color": "#000000"}, "encoding": {"text": {"field": "t"}}},
{"data": {"name": "tr"}, "mark": {"type": "text", "align": "right", "baseline": "middle", "fontSize": 12, "color": "#000000"}, "encoding": {"text": {"field": "t"}}}
]
}
]
}
